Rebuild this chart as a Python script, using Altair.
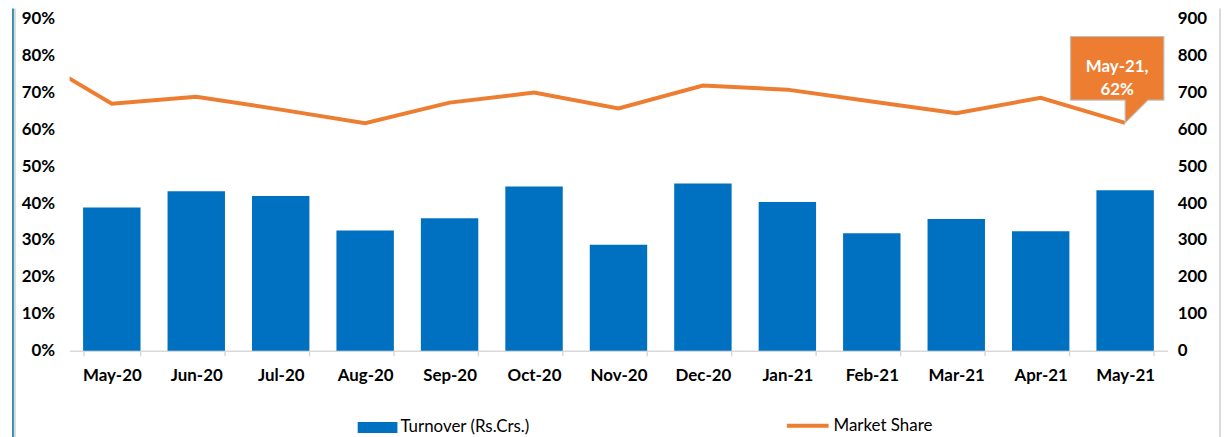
import altair as alt
import pandas as pd

# ---- data ----
months = ["May-20", "Jun-20", "Jul-20", "Aug-20", "Sep-20", "Oct-20", "Nov-20",
          "Dec-20", "Jan-21", "Feb-21", "Mar-21", "Apr-21", "May-21"]
turnover = [388, 432, 419, 326, 359, 445, 287, 453, 403, 318, 357, 324, 435]

# market share series (starts one month earlier; that point lies outside the plot and is clipped)
share_months = ["Apr-20"] + months
market_share = [0.805, 0.669, 0.688, 0.653, 0.616, 0.672, 0.699, 0.656,
                0.718, 0.707, 0.675, 0.643, 0.685, 0.617]

left_ticks = [0, 0.1, 0.2, 0.3, 0.4, 0.5, 0.6, 0.7, 0.8, 0.9]
right_ticks = [0, 100, 200, 300, 400, 500, 600, 700, 800, 900]

bar_series = "Turnover (Rs.Crs.)"
line_series = "Market Share"
callout_month = "May-21"

# ---- tables ----
bar_df = pd.DataFrame({"month": months, "turnover": turnover, "series": bar_series})
line_df = pd.DataFrame({
    "month": share_months,
    "idx": [months.index(m) if m in months else -1 for m in share_months],
    "share": market_share,
    "series": line_series,
})
callout_df = line_df[line_df["month"] == callout_month].copy()
callout_df["label"] = callout_df.apply(
    lambda r: f"{r['month']},\n{round(r['share'] * 100)}%", axis=1)

W, H = 1105, 334.7
FONT = "Lato"
BLUE = "#0070c0"
ORANGE = "#ed7d31"

bars = alt.Chart(bar_df).mark_bar().encode(
    x=alt.X("month:N", sort=months, title=None,
            scale=alt.Scale(paddingInner=0.32, paddingOuter=0.16),
            axis=alt.Axis(labelAngle=0, domainColor="#d9d9d9", domainWidth=1.5,
                          tickColor="#d9d9d9", tickWidth=1.5, tickBand="extent",
                          tickSize=5, labelPadding=12, labelFont=FONT,
                          labelFontWeight="bold", labelFontSize=17,
                          labelColor="#000000", grid=False)),
    y=alt.Y("turnover:Q", title=None,
            scale=alt.Scale(domain=[0, 900], nice=False),
            axis=alt.Axis(orient="right", values=right_ticks, grid=False,
                          domain=False, ticks=False, labelPadding=10,
                          labelFont=FONT, labelFontWeight="bold",
                          labelFontSize=17, labelColor="#000000")),
    color=alt.Color("series:N",
                    scale=alt.Scale(domain=[bar_series], range=[BLUE]),
                    legend=alt.Legend(orient="none", legendX=290, legendY=391.8,
                                      title=None, padding=0,
                                      symbolType="M-1,-0.275H1V0.275H-1Z",
                                      symbolSize=1600, symbolStrokeWidth=0,
                                      labelOffset=3, labelFont=FONT,
                                      labelFontSize=17, labelColor="#000000")),
)

x_line = alt.X("idx:Q", scale=alt.Scale(domain=[-0.5, 12.5], nice=False, zero=False),
               axis=None)
y_line = alt.Y("share:Q", title=None,
               scale=alt.Scale(domain=[0, 0.9], nice=False),
               axis=alt.Axis(orient="left", values=left_ticks, format=".0%",
                             grid=False, domain=False, ticks=False,
                             labelPadding=15, labelFont=FONT,
                             labelFontWeight="bold", labelFontSize=17,
                             labelColor="#000000"))

line = alt.Chart(line_df).mark_line(strokeWidth=4, clip=True).encode(
    x=x_line, y=y_line,
    stroke=alt.Stroke("series:N",
                      scale=alt.Scale(domain=[line_series], range=[ORANGE]),
                      legend=alt.Legend(orient="none", legendX=720, legendY=387,
                                        title=None, padding=0,
                                        symbolType="stroke", symbolSize=1764,
                                        symbolStrokeWidth=4, labelOffset=3,
                                        labelFont=FONT, labelFontSize=17,
                                        labelColor="#000000")),
)

callout_shape = "M0,0L0,-23L-55,-23L-55,-87L39,-87L39,-23L23,-23Z"
callout_box = alt.Chart(callout_df).mark_point(
    shape=callout_shape, size=4, filled=True, fill=ORANGE, opacity=1,
    stroke="#bfbfbf", strokeWidth=1.2
).encode(x=x_line, y=y_line)

callout_text = alt.Chart(callout_df).mark_text(
    font=FONT, fontSize=17, fontWeight="bold", color="white",
    align="center", baseline="middle", dx=-8, dy=-56, lineBreak="\n",
    lineHeight=23
).encode(x=x_line, y=y_line, text="label:N")

line_layer = alt.layer(line, callout_box, callout_text)

frame = alt.Data(values=[{"k": 1}])
left_frame = alt.Chart(frame).mark_rule(color="#3d8eaa", strokeWidth=2).encode(
    x=alt.value(-57), y=alt.value(-10), y2=alt.value(425))
left_frame2 = alt.Chart(frame).mark_rule(color="#d3dde1", strokeWidth=2).encode(
    x=alt.value(-55), y=alt.value(-10), y2=alt.value(425))
right_frame = alt.Chart(frame).mark_rule(color="#d9d9d9", strokeWidth=2).encode(
    x=alt.value(1158), y=alt.value(-10), y2=alt.value(425))

chart = alt.layer(bars, line_layer, left_frame, left_frame2, right_frame).resolve_scale(
    x="independent", y="independent", color="independent"
).properties(
    width=W, height=H,
    autosize=alt.AutoSizeParams(type="none"),
    padding={"left": 62, "top": 9, "right": 54, "bottom": 86.3},
).configure_view(stroke=None)

chart.save("out.html", embed_options={"renderer": "svg", "actions": False})
